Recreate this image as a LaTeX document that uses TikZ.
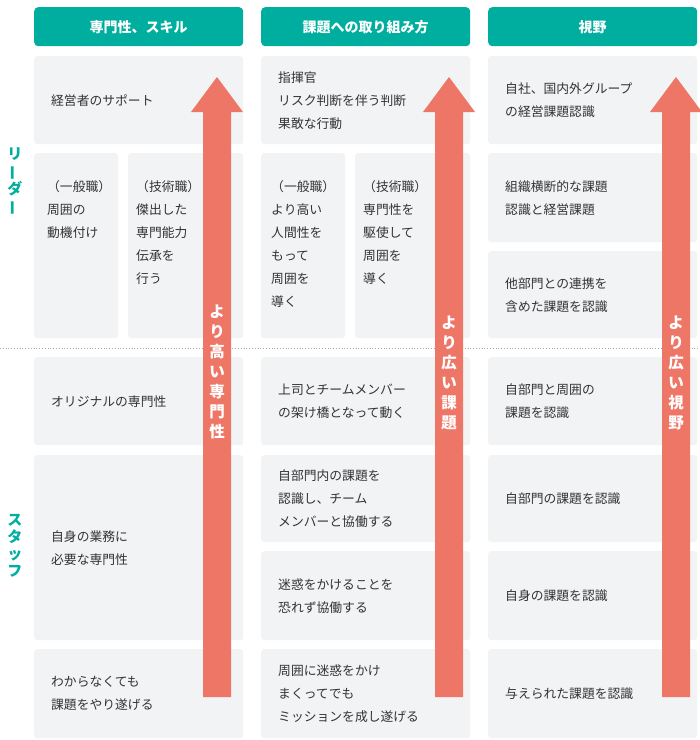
\documentclass[tikz,border=0pt]{standalone}
\usepackage{fontspec}
\setmainfont{Noto Sans CJK JP}
\usetikzlibrary{positioning}
\definecolor{teal}{HTML}{00AE9F}
\definecolor{cellgray}{HTML}{F2F3F4}
\definecolor{salmon}{HTML}{EE7667}
\definecolor{ink}{HTML}{333333}
\tikzset{
  head box/.style={
    fill=teal, rounded corners=4pt, text=white,
    font=\fontsize{14}{16}\selectfont\bfseries,
    minimum width=209pt, minimum height=39pt, anchor=north west,
  },
  cell/.style={
    fill=cellgray, rounded corners=3pt, anchor=north west,
    align=left, inner xsep=17pt, inner ysep=0pt,
    text width={#1pt-34pt}, text=ink,
    font=\fontsize{12.8}{23}\selectfont,
  },
  cell text/.style={
    anchor=north west, align=left, inner sep=0pt, text=ink,
    font=\fontsize{12.8}{23}\selectfont,
  },
  side label/.style={
    text=teal, align=center, inner sep=0pt,
    font=\fontsize{15}{17}\selectfont\bfseries,
  },
  arrow text/.style={
    text=white, align=center, inner sep=0pt, anchor=north,
    font=\fontsize{15.5}{20}\selectfont\bfseries,
  },
}
\newcommand{\vbar}{\rotatebox[origin=c]{90}{ー}}
\newcommand{\upArrow}[1]{%
  \fill[salmon] (#1-14,697) -- (#1-14,112) -- (#1-26,112) -- (#1,77)
    -- (#1+26,112) -- (#1+14,112) -- (#1+14,697) -- cycle;}
\begin{document}
\begin{tikzpicture}[x=1pt,y=-1pt]
  \useasboundingbox (0,0) rectangle (700,740);
  % headers
  \node [head box] (h1) at (34,7) {専門性、スキル};
  \node [head box] (h2) at (261,7) {課題への取り組み方};
  \node [head box] (h3) at (488,7) {視野};

  % column 1
  \node [cell=209, minimum height=88pt] (a1) at (34,56) {経営者のサポート};
  \node [cell=84, minimum height=185pt] (a2) at (34,153) {};
  \node [cell text] at (47,180) {（一般職）\\周囲の\\動機付け};
  \node [cell=115, minimum height=185pt] (a3) at (128,153) {};
  \node [cell text] at (136,180) {（技術職）\\傑出した\\専門能力\\伝承を\\行う};
  \node [cell=209, minimum height=88pt] (a4) at (34,357) {オリジナルの専門性};
  \node [cell=209, minimum height=185pt] (a5) at (34,455) {自身の業務に\\必要な専門性};
  \node [cell=209, minimum height=89pt] (a6) at (34,649) {わからなくても\\課題をやり遂げる};

  % column 2
  \node [cell=209, minimum height=88pt] (b1) at (261,56) {指揮官\\リスク判断を伴う判断\\果敢な行動};
  \node [cell=84, minimum height=185pt] (b2) at (261,153) {};
  \node [cell text] at (271,180) {（一般職）\\より高い\\人間性を\\もって\\周囲を\\導く};
  \node [cell=115, minimum height=185pt] (b3) at (355,153) {};
  \node [cell text] at (363,180) {（技術職）\\専門性を\\駆使して\\周囲を\\導く};
  \node [cell=209, minimum height=88pt] (b4) at (261,357) {上司とチームメンバー\\の架け橋となって動く};
  \node [cell=209, minimum height=87pt] (b5) at (261,455) {自部門内の課題を\\認識し、チーム\\メンバーと協働する};
  \node [cell=209, minimum height=89pt] (b6) at (261,551) {迷惑をかけることを\\恐れず協働する};
  \node [cell=209, minimum height=89pt] (b7) at (261,649) {周囲に迷惑をかけ\\まくってでも\\ミッションを成し遂げる};

  % column 3
  \node [cell=209, minimum height=88pt] (c1) at (488,56) {自社、国内外グループ\\の経営課題認識};
  \node [cell=209, minimum height=89pt] (c2) at (488,153) {組織横断的な課題\\認識と経営課題};
  \node [cell=209, minimum height=87pt] (c3) at (488,251) {他部門との連携を\\含めた課題を認識};
  \node [cell=209, minimum height=88pt] (c4) at (488,357) {自部門と周囲の\\課題を認識};
  \node [cell=209, minimum height=87pt] (c5) at (488,455) {自部門の課題を認識};
  \node [cell=209, minimum height=89pt] (c6) at (488,551) {自身の課題を認識};
  \node [cell=209, minimum height=89pt] (c7) at (488,649) {与えられた課題を認識};

  % divider
  \draw [gray!70, dotted, line width=0.8pt] (0,348) -- (700,348);

  % side labels
  \node [side label] (leader) at (15,182) {リ\\\vbar\\ダ\\\vbar};
  \node [side label] (staff) at (15,546) {ス\\タ\\ッ\\フ};

  % arrows
  \upArrow{217}
  \upArrow{449}
  \upArrow{676}
  \node [arrow text] (t1) at (217,305) {よ\\り\\高\\い\\専\\門\\性};
  \node [arrow text] (t2) at (449,316) {よ\\り\\広\\い\\課\\題};
  \node [arrow text] (t3) at (676,316) {よ\\り\\広\\い\\視\\野};
\end{tikzpicture}
\end{document}
